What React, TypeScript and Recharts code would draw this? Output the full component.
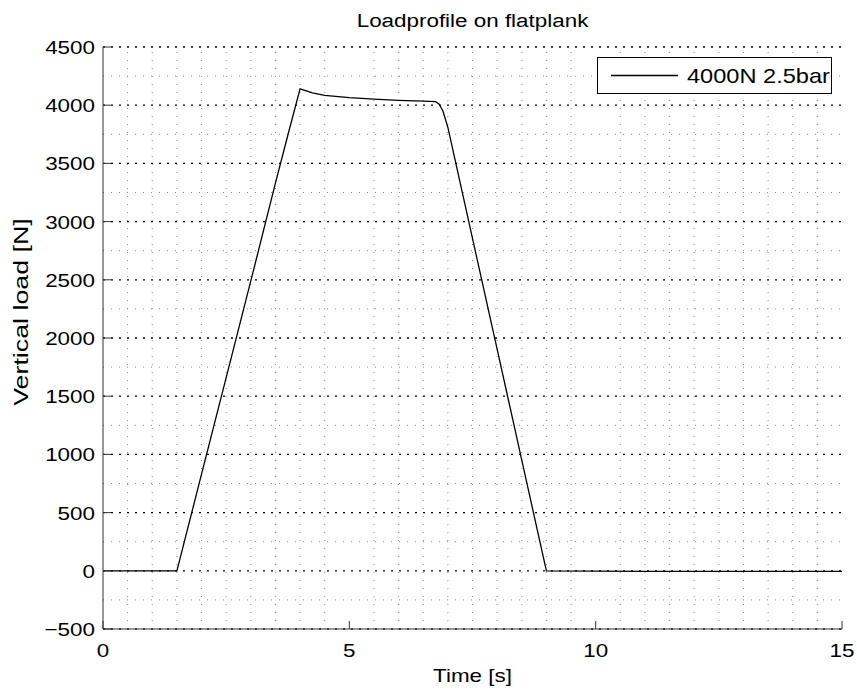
import { LineChart, Line, XAxis, YAxis, ReferenceLine } from "recharts";

const time = [0, 1.5, 2, 2.5, 3, 3.5, 3.75, 4.0, 4.25, 4.5, 5, 5.5, 6, 6.5, 6.75, 6.82, 6.9, 7.0, 7.5, 8, 8.5, 9.0, 10, 11, 12, 13, 14, 15];
const load = [0, 0, 830, 1660, 2490, 3330, 3740, 4140, 4105, 4085, 4065, 4052, 4042, 4035, 4030, 4010, 3950, 3810, 2855, 1905, 950, 0, -3, -5, -5, -5, -5, -5];

const xTicks = [0, 5, 10, 15];
const yTicks = [-500, 0, 500, 1000, 1500, 2000, 2500, 3000, 3500, 4000, 4500];
const yMinor = [-250, 250, 750, 1250, 1750, 2250, 2750, 3250, 3750, 4250];
const xMinor = [0.5, 1, 1.5, 2, 2.5, 3, 3.5, 4, 4.5, 5.5, 6, 6.5, 7, 7.5, 8, 8.5, 9, 9.5, 10.5, 11, 11.5, 12, 12.5, 13, 13.5, 14, 14.5];

const seriesName = "4000N 2.5bar";

const data = time.map((t, i) => ({ t, load: load[i] }));

const FONT = "'Liberation Sans', Arial, Helvetica, sans-serif";
const SX = 1.18;
const AXIS = "#333";

function fmt(v: number) {
  return v < 0 ? "\u2212" + Math.abs(v) : String(v);
}

function XTick({ x, y, payload }: any) {
  return (
    <g>
      <line x1={x} x2={x} y1={y} y2={y - 8} stroke={AXIS} />
      <text
        transform={`translate(${x},${y + 28}) scale(${SX},1)`}
        textAnchor="middle"
        fontFamily={FONT}
        fontSize={19}
        fill="#000"
      >
        {fmt(payload.value)}
      </text>
    </g>
  );
}

function YTick({ x, y, payload }: any) {
  return (
    <g>
      <line x1={x} x2={x + 8} y1={y} y2={y} stroke={AXIS} />
      <text
        transform={`translate(${x - 8},${y + 7}) scale(${SX},1)`}
        textAnchor="end"
        fontFamily={FONT}
        fontSize={19}
        fill="#000"
      >
        {fmt(payload.value)}
      </text>
    </g>
  );
}

export default function App() {
  return (
    <div style={{ position: "absolute", left: 0, top: 0, width: 857, height: 693, background: "#fff" }}>
      <LineChart width={857} height={693} data={data} margin={{ top: 47, right: 15, left: 13, bottom: 0 }}>
        {xMinor.map((v) => (
          <ReferenceLine key={"xm" + v} x={v} stroke="#8a8a8a" strokeDasharray="1 7" strokeWidth={1} />
        ))}
        {yMinor.map((v) => (
          <ReferenceLine key={"ym" + v} y={v} stroke="#8a8a8a" strokeDasharray="1 7" strokeWidth={1} />
        ))}
        {yTicks.map((v) => (
          <ReferenceLine key={"yM" + v} y={v} stroke="#000" strokeDasharray="2 6" strokeWidth={1.3} />
        ))}
        <XAxis
          dataKey="t"
          type="number"
          domain={[0, 15]}
          ticks={xTicks}
          interval={0}
          height={64}
          stroke={AXIS}
          tickLine={false}
          tickSize={0}
          tickMargin={0}
          tick={<XTick />}
          label={({ viewBox }: any) => (
            <text
              transform={`translate(${viewBox.x + viewBox.width / 2},${viewBox.y + 53}) scale(${SX},1)`}
              textAnchor="middle"
              fontFamily={FONT}
              fontSize={19}
              fill="#000"
            >
              Time [s]
            </text>
          )}
        />
        <YAxis
          type="number"
          domain={[-500, 4500]}
          ticks={yTicks}
          interval={0}
          width={90}
          stroke={AXIS}
          tickLine={false}
          tickSize={0}
          tickMargin={0}
          tick={<YTick />}
          label={({ viewBox }: any) => (
            <text
              transform={`translate(${viewBox.x + 15},${viewBox.y + viewBox.height / 2 - 26}) rotate(-90) scale(1.34,1)`}
              textAnchor="middle"
              fontFamily={FONT}
              fontSize={20}
              fill="#000"
            >
              Vertical load [N]
            </text>
          )}
        />
        <Line
          type="linear"
          dataKey="load"
          name={seriesName}
          stroke="#000"
          strokeWidth={1.3}
          dot={false}
          isAnimationActive={false}
        />
      </LineChart>
      <svg width={857} height={693} style={{ position: "absolute", left: 0, top: 0, pointerEvents: "none" }}>
        <text
          transform={`translate(472.5,27) scale(${SX},1)`}
          textAnchor="middle"
          fontFamily={FONT}
          fontSize={19}
          fill="#000"
        >
          Loadprofile on flatplank
        </text>
        <rect x={597.5} y={57.5} width={234} height={36} fill="#fff" stroke="#000" strokeWidth={1} />
        <line x1={611} x2={678} y1={75.5} y2={75.5} stroke="#000" strokeWidth={1.3} />
        <text
          transform={`translate(687,83) scale(${SX},1)`}
          fontFamily={FONT}
          fontSize={20}
          fill="#000"
        >
          {seriesName}
        </text>
      </svg>
    </div>
  );
}
